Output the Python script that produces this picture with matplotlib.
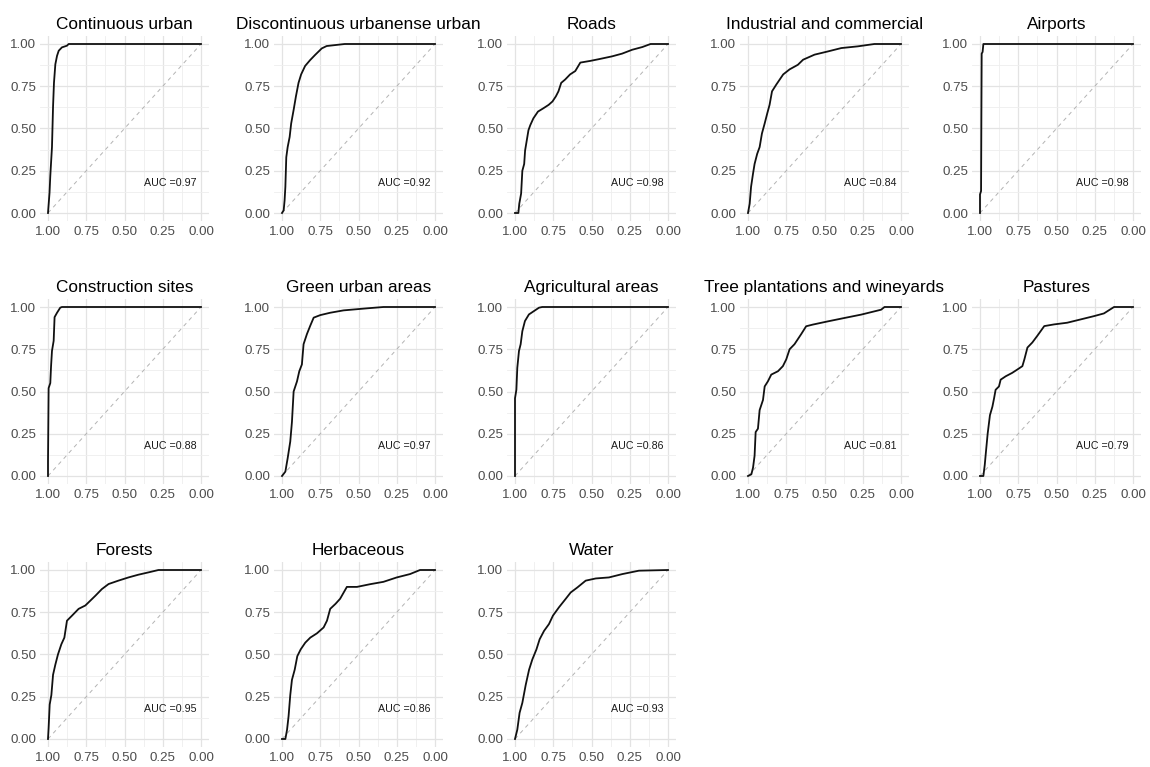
import matplotlib
matplotlib.use("Agg")
import matplotlib.pyplot as plt
import numpy as np

plt.rcParams['font.family'] = ['Liberation Sans', 'DejaVu Sans']

# ROC curves: specificity (x, shown reversed) and sensitivity (y)
titles = ["Continuous urban", "Discontinuous urbanense urban", "Roads",
          "Industrial and commercial", "Airports", "Construction sites",
          "Green urban areas", "Agricultural areas",
          "Tree plantations and wineyards", "Pastures", "Forests",
          "Herbaceous", "Water"]
auc_labels = ["0.97", "0.92", "0.98", "0.84", "0.98", "0.88", "0.97",
              "0.86", "0.81", "0.79", "0.95", "0.86", "0.93"]

spec_cont = [1.0, 0.99, 0.985, 0.974, 0.967, 0.961, 0.952, 0.941, 0.93, 0.909, 0.876, 0.865, 0.0]
sens_cont = [0.0, 0.12, 0.22, 0.39, 0.63, 0.77, 0.88, 0.93, 0.96, 0.98, 0.99, 1.0, 1.0]

spec_disc = [1.0, 0.989, 0.983, 0.978, 0.972, 0.963, 0.95, 0.94, 0.924, 0.909, 0.892, 0.875,
             0.849, 0.816, 0.784, 0.74, 0.708, 0.59, 0.0]
sens_disc = [0.0, 0.016, 0.075, 0.155, 0.33, 0.39, 0.45, 0.53, 0.61, 0.69, 0.77, 0.82,
             0.87, 0.905, 0.935, 0.974, 0.988, 1.0, 1.0]

spec_roads = [1.0, 0.978, 0.972, 0.96, 0.952, 0.94, 0.934, 0.923, 0.912, 0.90, 0.88, 0.85,
              0.814, 0.78, 0.755, 0.733, 0.716, 0.698, 0.672, 0.64, 0.606, 0.573, 0.508,
              0.453, 0.365, 0.30, 0.234, 0.168, 0.114, 0.0]
sens_roads = [0.0, 0.0, 0.055, 0.115, 0.25, 0.29, 0.37, 0.43, 0.49, 0.52, 0.56, 0.60,
              0.62, 0.64, 0.66, 0.69, 0.72, 0.77, 0.79, 0.82, 0.84, 0.89, 0.90,
              0.91, 0.927, 0.943, 0.966, 0.982, 1.0, 1.0]

spec_ind = [1.0, 0.989, 0.98, 0.967, 0.957, 0.94, 0.924, 0.909, 0.891, 0.874, 0.859, 0.843,
            0.815, 0.77, 0.728, 0.674, 0.64, 0.565, 0.478, 0.39, 0.283, 0.174, 0.0]
sens_ind = [0.0, 0.055, 0.155, 0.234, 0.29, 0.35, 0.39, 0.47, 0.53, 0.59, 0.64, 0.72,
            0.76, 0.82, 0.85, 0.877, 0.907, 0.937, 0.956, 0.976, 0.986, 1.0, 1.0]

spec_air = [1.0, 1.0, 0.993, 0.991, 0.989, 0.983, 0.978, 0.0]
sens_air = [0.0, 0.11, 0.13, 0.57, 0.943, 0.953, 1.0, 1.0]

spec_cons = [1.0, 1.0, 0.996, 0.985, 0.98, 0.974, 0.963, 0.957, 0.941, 0.92, 0.909, 0.0]
sens_cons = [0.0, 0.085, 0.52, 0.55, 0.65, 0.74, 0.80, 0.94, 0.966, 0.996, 1.0, 1.0]

spec_green = [1.0, 0.978, 0.963, 0.946, 0.935, 0.924, 0.902, 0.887, 0.87, 0.859, 0.837,
              0.815, 0.793, 0.75, 0.685, 0.598, 0.446, 0.337, 0.0]
sens_green = [0.0, 0.026, 0.105, 0.204, 0.32, 0.50, 0.56, 0.62, 0.66, 0.78, 0.84,
              0.89, 0.937, 0.952, 0.966, 0.98, 0.992, 1.0, 1.0]

spec_agri = [1.0, 1.0, 0.991, 0.985, 0.974, 0.963, 0.952, 0.935, 0.909, 0.876, 0.843, 0.822, 0.0]
sens_agri = [0.0, 0.46, 0.51, 0.64, 0.74, 0.78, 0.857, 0.917, 0.956, 0.976, 0.996, 1.0, 1.0]

spec_tree = [1.0, 0.978, 0.967, 0.957, 0.95, 0.935, 0.924, 0.902, 0.891, 0.870, 0.848,
             0.804, 0.772, 0.75, 0.728, 0.696, 0.652, 0.62, 0.576, 0.478, 0.37, 0.26,
             0.13, 0.108, 0.0]
sens_tree = [0.0, 0.01, 0.05, 0.12, 0.26, 0.28, 0.39, 0.45, 0.53, 0.56, 0.60,
             0.62, 0.65, 0.69, 0.75, 0.78, 0.84, 0.886, 0.896, 0.915, 0.935, 0.955,
             0.984, 1.0, 1.0]

spec_past = [1.0, 0.978, 0.969, 0.963, 0.95, 0.935, 0.919, 0.908, 0.898, 0.876, 0.865,
             0.832, 0.79, 0.756, 0.723, 0.71, 0.69, 0.658, 0.625, 0.58, 0.516, 0.43,
             0.34, 0.255, 0.19, 0.124, 0.0]
sens_past = [0.0, 0.0, 0.065, 0.125, 0.25, 0.36, 0.41, 0.46, 0.51, 0.53, 0.57,
             0.59, 0.61, 0.63, 0.65, 0.69, 0.76, 0.79, 0.83, 0.887, 0.897, 0.907,
             0.927, 0.946, 0.962, 1.0, 1.0]

spec_for = [1.0, 0.996, 0.989, 0.978, 0.967, 0.952, 0.935, 0.913, 0.893, 0.876, 0.843,
            0.80, 0.756, 0.724, 0.69, 0.648, 0.604, 0.54, 0.474, 0.41, 0.343, 0.278, 0.0]
sens_for = [0.0, 0.065, 0.204, 0.26, 0.38, 0.44, 0.50, 0.56, 0.60, 0.70, 0.73,
            0.77, 0.79, 0.818, 0.848, 0.887, 0.917, 0.937, 0.956, 0.972, 0.986, 1.0, 1.0]

spec_herb = [1.0, 0.978, 0.967, 0.957, 0.946, 0.935, 0.917, 0.90, 0.878, 0.848, 0.815,
             0.772, 0.728, 0.706, 0.685, 0.65, 0.62, 0.576, 0.51, 0.424, 0.337, 0.25,
             0.163, 0.098, 0.0]
sens_herb = [0.0, 0.0, 0.055, 0.135, 0.26, 0.35, 0.41, 0.49, 0.53, 0.57, 0.60,
             0.625, 0.66, 0.70, 0.77, 0.80, 0.83, 0.90, 0.90, 0.916, 0.93, 0.956,
             0.976, 1.0, 1.0]

spec_water = [1.0, 0.985, 0.97, 0.952, 0.93, 0.908, 0.887, 0.86, 0.839, 0.81, 0.778,
              0.752, 0.712, 0.668, 0.636, 0.592, 0.538, 0.472, 0.386, 0.298, 0.19, 0.0]
sens_water = [0.0, 0.055, 0.155, 0.214, 0.32, 0.41, 0.47, 0.53, 0.59, 0.64, 0.68,
              0.73, 0.78, 0.83, 0.867, 0.897, 0.937, 0.95, 0.956, 0.976, 0.996, 1.0]

specs = [spec_cont, spec_disc, spec_roads, spec_ind, spec_air, spec_cons, spec_green,
         spec_agri, spec_tree, spec_past, spec_for, spec_herb, spec_water]
senss = [sens_cont, sens_disc, sens_roads, sens_ind, sens_air, sens_cons, sens_green,
         sens_agri, sens_tree, sens_past, sens_for, sens_herb, sens_water]

ticks = [1.0, 0.75, 0.5, 0.25, 0.0]
tick_labels = ["1.00", "0.75", "0.50", "0.25", "0.00"]

W, H = 1150, 767
fig = plt.figure(figsize=(W / 100, H / 100), dpi=100)

# panel placement (pixels): x of 1.00 per column, y of 1.00 per row
col_x = [48, 282, 515, 748, 980]
row_y = [44, 307, 570]
unit_w, unit_h = 153, 169

for i, title in enumerate(titles):
    r, c = divmod(i, 5)
    left = col_x[c] - 0.05 * unit_w
    top = row_y[r] - 0.05 * unit_h
    aw, ah = 1.1 * unit_w, 1.1 * unit_h
    ax = fig.add_axes([left / W, 1 - (top + ah) / H, aw / W, ah / H])

    ax.set_xlim(1.05, -0.05)
    ax.set_ylim(-0.05, 1.05)
    ax.set_xticks(ticks)
    ax.set_xticklabels(tick_labels)
    ax.set_yticks(ticks)
    ax.set_yticklabels(tick_labels)
    ax.set_xticks([0.875, 0.625, 0.375, 0.125], minor=True)
    ax.set_yticks([0.875, 0.625, 0.375, 0.125], minor=True)
    ax.grid(True, which="major", color="#E3E3E3", lw=0.9)
    ax.grid(True, which="minor", color="#EEEEEE", lw=0.6)
    ax.set_axisbelow(True)
    for s in ax.spines.values():
        s.set_visible(False)
    ax.tick_params(which="both", length=0, labelsize=9.6, labelcolor="#4D4D4D", pad=3)

    ax.plot([1, 0], [0, 1], ls=(0, (4, 4)), color="#B3B3B3", lw=0.7)
    ax.plot(specs[i], senss[i], color="#111111", lw=1.3)
    ax.text(0.2, 0.18, "AUC =" + auc_labels[i], ha="center", va="center",
            fontsize=7.7, color="#1A1A1A")
    ax.set_title(title, fontsize=12.4, color="black", pad=5)

fig.savefig("out.png", dpi=100)
